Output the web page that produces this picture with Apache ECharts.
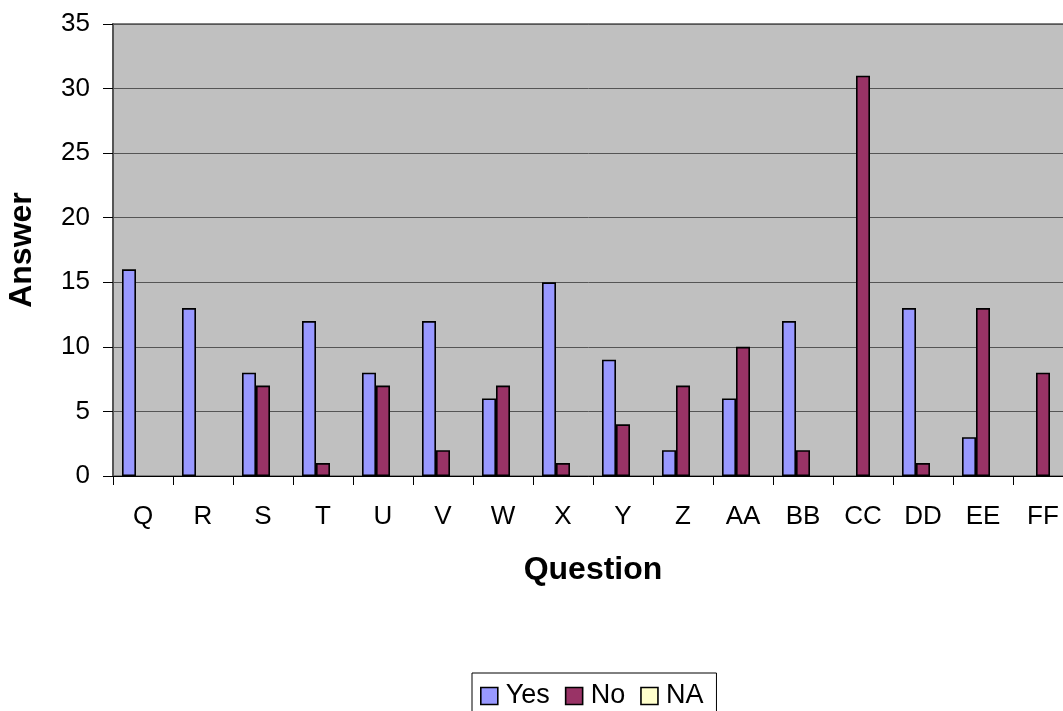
<!DOCTYPE html>
<html>
<head>
<meta charset="utf-8">
<script src="https://cdn.jsdelivr.net/npm/echarts@6/dist/echarts.min.js"></script>
<style>html,body{margin:0;padding:0;background:#fff}#c{width:1063px;height:711px}</style>
</head>
<body>
<div id="c"></div>
<script>
const categories = ['Q','R','S','T','U','V','W','X','Y','Z','AA','BB','CC','DD','EE','FF'];
const yesValues = [16,13,8,12,8,12,6,15,9,2,6,12,0,13,3,0];
const noValues  = [0,0,7,1,7,2,7,1,4,7,10,2,31,1,13,8];
const naValues  = [0,0,0,0,0,0,0,0,0,0,0,0,0,0,0,0];
const seriesNames = ['Yes','No','NA'];
const seriesColors = ['#9999FF','#993366','#FFFFCC'];

const font = 'Liberation Sans, Arial, sans-serif';
const chart = echarts.init(document.getElementById('c'), null, {renderer:'canvas'});
const mk = (name, data, color) => ({
  name, type:'bar', data: data.map(v => v === 0 ? null : v),
  barWidth: 14, barGap: '0%',
  itemStyle: {color, borderColor:'#000', borderWidth:1.6},
  animation:false
});
chart.setOption({
  animation:false,
  grid:{left:113, top:24, right:-10, bottom:235, containLabel:false, outerBoundsMode:'none',
        show:true, backgroundColor:'#C0C0C0', borderColor:'#808080', borderWidth:2},
  legend:{
    data: seriesNames, left:472, top:673, orient:'horizontal',
    itemWidth:17, itemHeight:17, itemGap:15, padding:[9,13,6,8],
    borderColor:'#000', borderWidth:1, icon:'rect',
    itemStyle:{borderColor:'#000', borderWidth:1.6},
    textStyle:{fontFamily:font, fontSize:27, lineHeight:28, color:'#000', padding:[0,0,0,3]}
  },
  xAxis:{
    type:'category', data:categories,
    axisLine:{lineStyle:{color:'#000', width:1}},
    axisTick:{show:true, length:9, alignWithLabel:false, lineStyle:{color:'#000'}},
    axisLabel:{fontFamily:font, fontSize:26, color:'#000', margin:28},
    name:'Question', nameLocation:'middle', nameGap:78,
    nameTextStyle:{fontFamily:font, fontSize:32, fontWeight:'bold', color:'#000'}
  },
  yAxis:{
    type:'value', min:0, max:35, interval:5,
    axisLine:{show:true, lineStyle:{color:'#555', width:2}},
    axisTick:{show:true, length:10, lineStyle:{color:'#000'}},
    axisLabel:{fontFamily:font, fontSize:26, color:'#000', margin:23},
    splitLine:{show:true, lineStyle:{color:'#555', width:1}},
    name:'Answer', nameLocation:'middle', nameGap:75, nameRotate:90,
    nameTextStyle:{fontFamily:font, fontSize:32, fontWeight:'bold', color:'#000'}
  },
  series:[
    mk(seriesNames[0], yesValues, seriesColors[0]),
    mk(seriesNames[1], noValues, seriesColors[1]),
    mk(seriesNames[2], naValues, seriesColors[2])
  ]
});
</script>
</body>
</html>
